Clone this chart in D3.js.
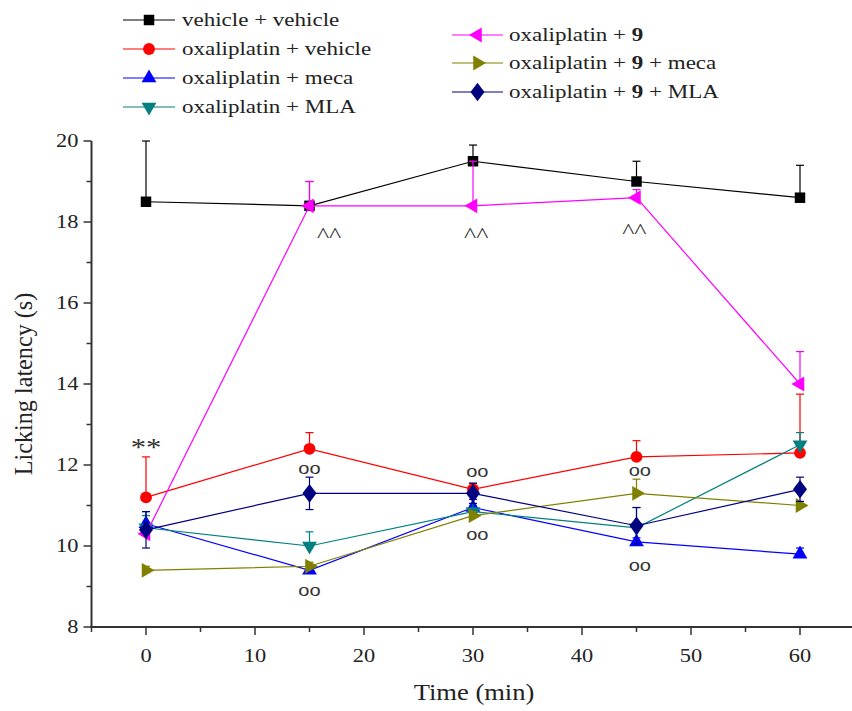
<!DOCTYPE html>
<html>
<head>
<meta charset="utf-8">
<script src="https://cdn.jsdelivr.net/npm/d3@7"></script>
<style>
  html, body { margin: 0; padding: 0; background: #fff; }
  svg { display: block; }
  text { font-family: "Liberation Serif", "Times New Roman", serif; }
</style>
</head>
<body>
<svg id="chart" width="852" height="711"></svg>
<script>
// ---------- data ----------
const times = [0, 15, 30, 45, 60];

const seriesNames = [
  "vehicle + vehicle",
  "oxaliplatin + vehicle",
  "oxaliplatin + meca",
  "oxaliplatin + MLA",
  "oxaliplatin + 9",
  "oxaliplatin + 9 + meca",
  "oxaliplatin + 9 + MLA"
];

const vehVeh      = [18.5, 18.4, 19.5, 19.0, 18.6];
const oxaVeh      = [11.2, 12.4, 11.4, 12.2, 12.3];
const oxaMeca     = [10.55, 9.4, 10.95, 10.1, 9.8];
const oxaMLA      = [10.45, 10.0, 10.85, 10.45, 12.5];
const oxa9        = [10.3, 18.4, 18.4, 18.6, 14.0];
const oxa9Meca    = [9.4, 9.5, 10.75, 11.3, 11.0];
const oxa9MLA     = [10.4, 11.3, 11.3, 10.5, 11.4];

const vehVehErr   = [1.5, 0.6, 0.4, 0.5, 0.8];
const oxaVehErr   = [1.0, 0.4, 0.15, 0.4, 1.45];
const oxaMecaErr  = [0.3, 0.1, 0.2, 0.1, 0.15];
const oxaMLAErr   = [0.3, 0.35, 0.2, 0.5, 0.3];
const oxa9Err     = [0.2, 0.6, 1.1, 0.2, 0.8];
const oxa9MecaErr = [0.1, 0.1, 0.1, 0.35, 0.1];
const oxa9MLAErr  = [0.45, 0.4, 0.25, 0.45, 0.3];

const xTicks = [0, 10, 20, 30, 40, 50, 60];
const xMinorTicks = [-5, 5, 15, 25, 35, 45, 55, 65];
const yTicks = [8, 10, 12, 14, 16, 18, 20];
const yMinorTicks = [9, 11, 13, 15, 17, 19];

// significance marks: [label, time, value]
const marks = [
  ["**", 0, 12.5],
  ["^^", 16.8, 17.85],
  ["^^", 30.3, 17.85],
  ["^^", 44.8, 17.95],
  ["oo", 15.0, 11.9],
  ["oo", 15.0, 8.89],
  ["oo", 30.4, 11.83],
  ["oo", 30.4, 10.27],
  ["oo", 45.3, 11.85],
  ["oo", 45.3, 9.5]
];

// ---------- styles ----------
const colors  = ["#000000", "#ff0000", "#0000ff", "#008080", "#ff00ff", "#808000", "#000080"];
const shapes  = ["square", "circle", "up", "down", "left", "right", "diamond"];
const values  = [vehVeh, oxaVeh, oxaMeca, oxaMLA, oxa9, oxa9Meca, oxa9MLA];
const errs    = [vehVehErr, oxaVehErr, oxaMecaErr, oxaMLAErr, oxa9Err, oxa9MecaErr, oxa9MLAErr];
const twoSided = [false, false, false, false, false, false, true];

const series = seriesNames.map((name, i) => ({
  name, color: colors[i], shape: shapes[i], twoSided: twoSided[i],
  points: times.map((t, j) => ({ t, v: values[i][j], e: errs[i][j] }))
}));

// ---------- layout ----------
const svg = d3.select("#chart");
const SX = 1.18; // horizontal stretch of text as in reference
const x = d3.scaleLinear().domain([-5, 65]).range([91.5, 854.5]);
const y = d3.scaleLinear().domain([8, 20]).range([627, 141]);

function symbolPath(shape) {
  const map = {
    square:  [d3.symbolSquare, 110, 0, 1],
    circle:  [d3.symbolCircle, 110, 0, 1],
    up:      [d3.symbolTriangle, 95, 0, 1],
    down:    [d3.symbolTriangle, 95, 180, 1],
    left:    [d3.symbolTriangle, 95, -90, 1],
    right:   [d3.symbolTriangle, 95, 90, 1],
    diamond: [d3.symbolDiamond, 100, 0, 1.3]
  };
  const [type, size, rot, sx] = map[shape];
  return { d: d3.symbol().type(type).size(size)(), rot, sx };
}

function stretchedText(g, tx, ty, anchor) {
  return g.append("text")
    .attr("transform", `translate(${tx},${ty}) scale(${SX},1)`)
    .attr("text-anchor", anchor);
}

// ---------- axes ----------
const axisG = svg.append("g");
const axisColor = "#333";

axisG.append("line").attr("x1", x(-5)).attr("x2", x(-5))
  .attr("y1", y(20)).attr("y2", y(8) + 1)
  .attr("stroke", axisColor).attr("stroke-width", 2);
axisG.append("line").attr("x1", x(-5) - 1).attr("x2", x(65))
  .attr("y1", y(8)).attr("y2", y(8))
  .attr("stroke", axisColor).attr("stroke-width", 2);

yTicks.forEach(v => {
  axisG.append("line").attr("x1", x(-5) - 8).attr("x2", x(-5))
    .attr("y1", y(v)).attr("y2", y(v)).attr("stroke", axisColor).attr("stroke-width", 1.5);
  stretchedText(axisG, x(-5) - 13, y(v) + 6, "end")
    .attr("font-size", 19).attr("fill", "#222").text(d3.format("d")(v));
});
yMinorTicks.forEach(v => {
  axisG.append("line").attr("x1", x(-5) - 5).attr("x2", x(-5))
    .attr("y1", y(v)).attr("y2", y(v)).attr("stroke", axisColor).attr("stroke-width", 1.5);
});
xTicks.forEach(t => {
  axisG.append("line").attr("x1", x(t)).attr("x2", x(t))
    .attr("y1", y(8)).attr("y2", y(8) + 8).attr("stroke", axisColor).attr("stroke-width", 1.5);
  stretchedText(axisG, x(t), y(8) + 35, "middle")
    .attr("font-size", 19).attr("fill", "#222").text(d3.format("d")(t));
});
xMinorTicks.forEach(t => {
  axisG.append("line").attr("x1", x(t)).attr("x2", x(t))
    .attr("y1", y(8)).attr("y2", y(8) + 5).attr("stroke", axisColor).attr("stroke-width", 1.5);
});

// axis titles
stretchedText(axisG, 474, 700, "middle")
  .attr("font-size", 22.5).attr("fill", "#222").text("Time (min)");
axisG.append("text")
  .attr("transform", `translate(32,${(y(8) + y(20)) / 2}) rotate(-90) scale(1.1,${SX})`)
  .attr("text-anchor", "middle").attr("font-size", 22).attr("fill", "#222")
  .text("Licking latency (s)");

// ---------- series ----------
const line = d3.line().x(d => x(d.t)).y(d => y(d.v));
const plotG = svg.append("g");

series.forEach(s => {
  const g = plotG.append("g");
  s.points.forEach(p => {
    const top = y(p.v + p.e);
    const bot = s.twoSided ? y(p.v - p.e) : y(p.v);
    g.append("line").attr("x1", x(p.t)).attr("x2", x(p.t))
      .attr("y1", top).attr("y2", bot).attr("stroke", s.color).attr("stroke-width", 1.2);
    g.append("line").attr("x1", x(p.t) - 4).attr("x2", x(p.t) + 4)
      .attr("y1", top).attr("y2", top).attr("stroke", s.color).attr("stroke-width", 1.2);
    if (s.twoSided) {
      g.append("line").attr("x1", x(p.t) - 4).attr("x2", x(p.t) + 4)
        .attr("y1", bot).attr("y2", bot).attr("stroke", s.color).attr("stroke-width", 1.2);
    }
  });
  g.append("path").attr("d", line(s.points)).attr("fill", "none")
    .attr("stroke", s.color).attr("stroke-width", 1.2);
  const sym = symbolPath(s.shape);
  g.selectAll("path.m").data(s.points).join("path").attr("class", "m")
    .attr("d", sym.d)
    .attr("transform", d => `translate(${x(d.t)},${y(d.v)}) rotate(${sym.rot}) scale(${sym.sx},1)`)
    .attr("fill", s.color);
});

// ---------- significance marks ----------
marks.forEach(([lab, t, v]) => {
  const fs = lab === "**" ? 26 : (lab === "^^" ? 22 : 17);
  const tx = stretchedText(svg, x(t), y(v) + (lab === "**" ? 11 : (lab === "^^" ? 14 : 5)), "middle")
    .attr("font-size", fs).attr("fill", "#333").text(lab);
  if (lab === "oo") tx.style("font-family", "'Liberation Sans', Arial, sans-serif");
});

// ---------- legend ----------
const legendCols = [
  { idx: [0, 1, 2, 3], x1: 123, x2: 175, tx: 182, ys: [20, 49, 78, 107] },
  { idx: [4, 5, 6], x1: 452, x2: 503, tx: 509, ys: [35, 63, 92] }
];
const legG = svg.append("g");
legendCols.forEach(col => {
  col.idx.forEach((si, k) => {
    const s = series[si];
    const yy = col.ys[k];
    legG.append("line").attr("x1", col.x1).attr("x2", col.x2).attr("y1", yy).attr("y2", yy)
      .attr("stroke", s.color).attr("stroke-width", 1.2);
    const sym = symbolPath(s.shape);
    legG.append("path").attr("d", sym.d)
      .attr("transform", `translate(${(col.x1 + col.x2) / 2},${yy}) rotate(${sym.rot}) scale(${sym.sx},1)`)
      .attr("fill", s.color);
    const t = stretchedText(legG, col.tx, yy + 6, "start").attr("font-size", 19.5).attr("fill", "#222");
    s.name.split(/(\b9\b)/).forEach(p => {
      if (!p) return;
      t.append("tspan").attr("font-weight", p === "9" ? "bold" : null).text(p);
    });
  });
});
</script>
</body>
</html>
